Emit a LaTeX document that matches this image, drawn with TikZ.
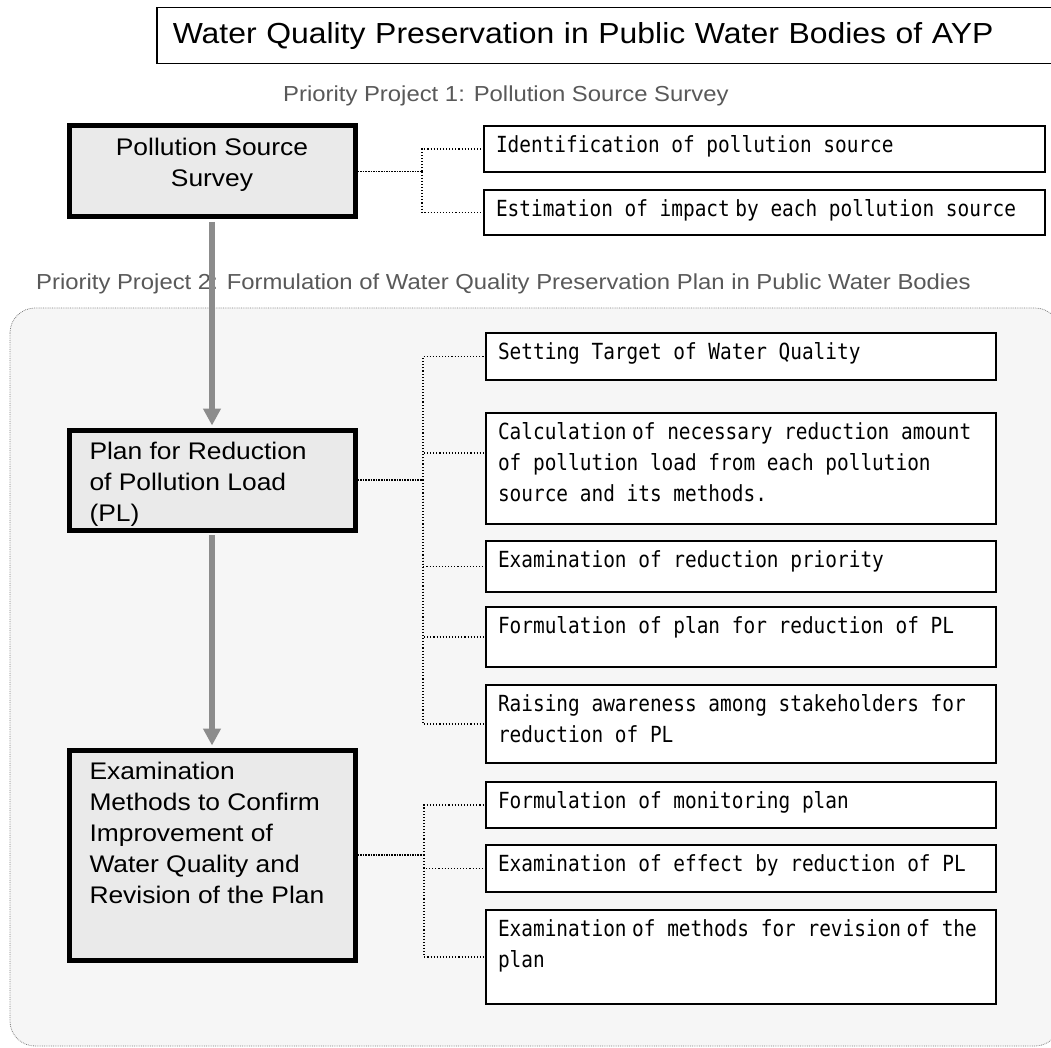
\documentclass[tikz,border=0pt]{standalone}
\usepackage{fontspec}
\usepackage{tikz}
\usetikzlibrary{arrows.meta,positioning}
\newfontfamily\arialfont[FakeStretch=1.1]{Liberation Sans}
\newfontfamily\gothicfont[FakeStretch=0.875]{DejaVu Sans Mono}
\definecolor{boxgray}{HTML}{EAEAEA}
\definecolor{panelgray}{HTML}{F6F6F6}
\definecolor{arrowgray}{HTML}{8C8C8C}
\definecolor{labelgray}{HTML}{595959}
\newcommand{\ltext}[3]{\parbox[t][#1][t]{245pt}{#2\rule{0pt}{29.5pt}#3}}
\newcommand{\rtext}[3]{\parbox[t][#1][t]{#2}{\raggedright\rule{0pt}{26.5pt}#3}}
\newcommand{\ns}{\hspace{0.25em}}

\begin{document}
\begin{tikzpicture}[x=1pt, y=-1pt,
    lbox/.style={draw, line width=5pt, fill=boxgray, anchor=north west,
      inner xsep=20.5pt, inner ysep=0pt, font=\arialfont\fontsize{24}{31}\selectfont},
    rbox/.style={draw, line width=2pt, fill=white, anchor=north west,
      inner xsep=12pt, inner ysep=0pt, font=\gothicfont\fontsize{22.2}{31}\selectfont},
    plabel/.style={anchor=base west, inner sep=0pt, text=labelgray,
      font=\arialfont\fontsize{21.7}{26}\selectfont},
    link/.style={dotted, line width=1.1pt},
    trunk/.style={densely dotted, line width=1.6pt},
    arrow/.style={-{Triangle[width=17pt,length=17pt]}, line width=6pt, draw=arrowgray,
      shorten <=2.5pt, shorten >=2pt}
  ]
    \useasboundingbox (0,0) rectangle (1051,1048);
    \fill[white] (0,0) rectangle (1051,1048);

    \draw[densely dotted, line width=0.8pt, draw=gray, fill=panelgray, rounded corners=25pt]
      (10,308) rectangle (1060,1046);

    \node[draw, line width=1.5pt, anchor=north west, minimum height=56pt, inner xsep=16pt,
      text width=880pt, align=left, font=\arialfont\fontsize{29}{32}\selectfont] (title)
      at (156,7) {Water Quality Preservation in Public Water Bodies of AYP};

    \node[plabel] (p1) at (283,102) {Priority Project 1: Pollution Source Survey};
    \node[plabel] (p2) at (36,290) {Priority Project 2: Formulation of Water Quality Preservation Plan in Public Water Bodies};

    \node[lbox] (pss) at (66.5,123.5) {\ltext{91pt}{\centering}{Pollution Source\\Survey}};
    \node[lbox] (plan) at (66.5,427.5) {\ltext{100pt}{\raggedright}{Plan for Reduction\\of Pollution Load\\(PL)}};
    \node[lbox] (exam) at (66.5,747.5) {\ltext{210pt}{\raggedright}{Examination\\Methods to Confirm\\Improvement of\\Water Quality and\\Revision of the Plan}};

    \node[rbox] (ident) at (483,125) {\rtext{46pt}{537pt}{Identification of pollution source}};
    \node[rbox] (estim) at (483,189) {\rtext{45pt}{537pt}{Estimation of impact\ns by each pollution source}};

    \node[rbox] (target) at (485,332) {\rtext{47pt}{486pt}{Setting Target of Water Quality}};
    \node[rbox] (calc) at (485,412) {\rtext{111pt}{486pt}{Calculation\ns of necessary reduction amount\\of pollution load from each pollution\\source and its methods.}};
    \node[rbox] (prio) at (485,540) {\rtext{51pt}{486pt}{Examination of reduction priority}};
    \node[rbox] (pform) at (485,606) {\rtext{60pt}{486pt}{Formulation of plan for reduction of PL}};
    \node[rbox] (aware) at (485,684) {\rtext{78pt}{486pt}{Raising awareness among stakeholders for\\reduction of PL}};

    \node[rbox] (monit) at (485,781) {\rtext{46pt}{486pt}{Formulation of monitoring plan}};
    \node[rbox] (effect) at (485,844) {\rtext{47pt}{486pt}{Examination of effect by reduction of PL}};
    \node[rbox] (revis) at (485,909) {\rtext{94pt}{486pt}{Examination\ns of methods for revision\ns of the\\plan}};

    \draw[arrow] (pss.south) -- (plan.north);
    \draw[arrow] (plan.south) -- (exam.north);

    \coordinate (j1) at ([xshift=64.5pt]pss.east);
    \coordinate (j2) at ([xshift=65.5pt]plan.east);
    \coordinate (j3) at ([xshift=66.5pt]exam.east);

    \draw[trunk] (pss.east) -- (j1);
    \draw[link] (j1) |- (ident.west);
    \draw[link] (j1) |- (estim.west);

    \draw[trunk] (plan.east) -- (j2);
    \draw[link] (j2) |- (target.west);
    \draw[link] (j2) |- ([yshift=15.5pt]calc.west);
    \draw[link] (j2) |- (prio.west);
    \draw[link] (j2) |- (pform.west);
    \draw[link] (j2) |- (aware.west);

    \draw[trunk] (exam.east) -- (j3);
    \draw[link] (j3) |- (monit.west);
    \draw[link] (j3) |- (effect.west);
    \draw[link] (j3) |- (revis.west);
  \end{tikzpicture}
\end{document}
